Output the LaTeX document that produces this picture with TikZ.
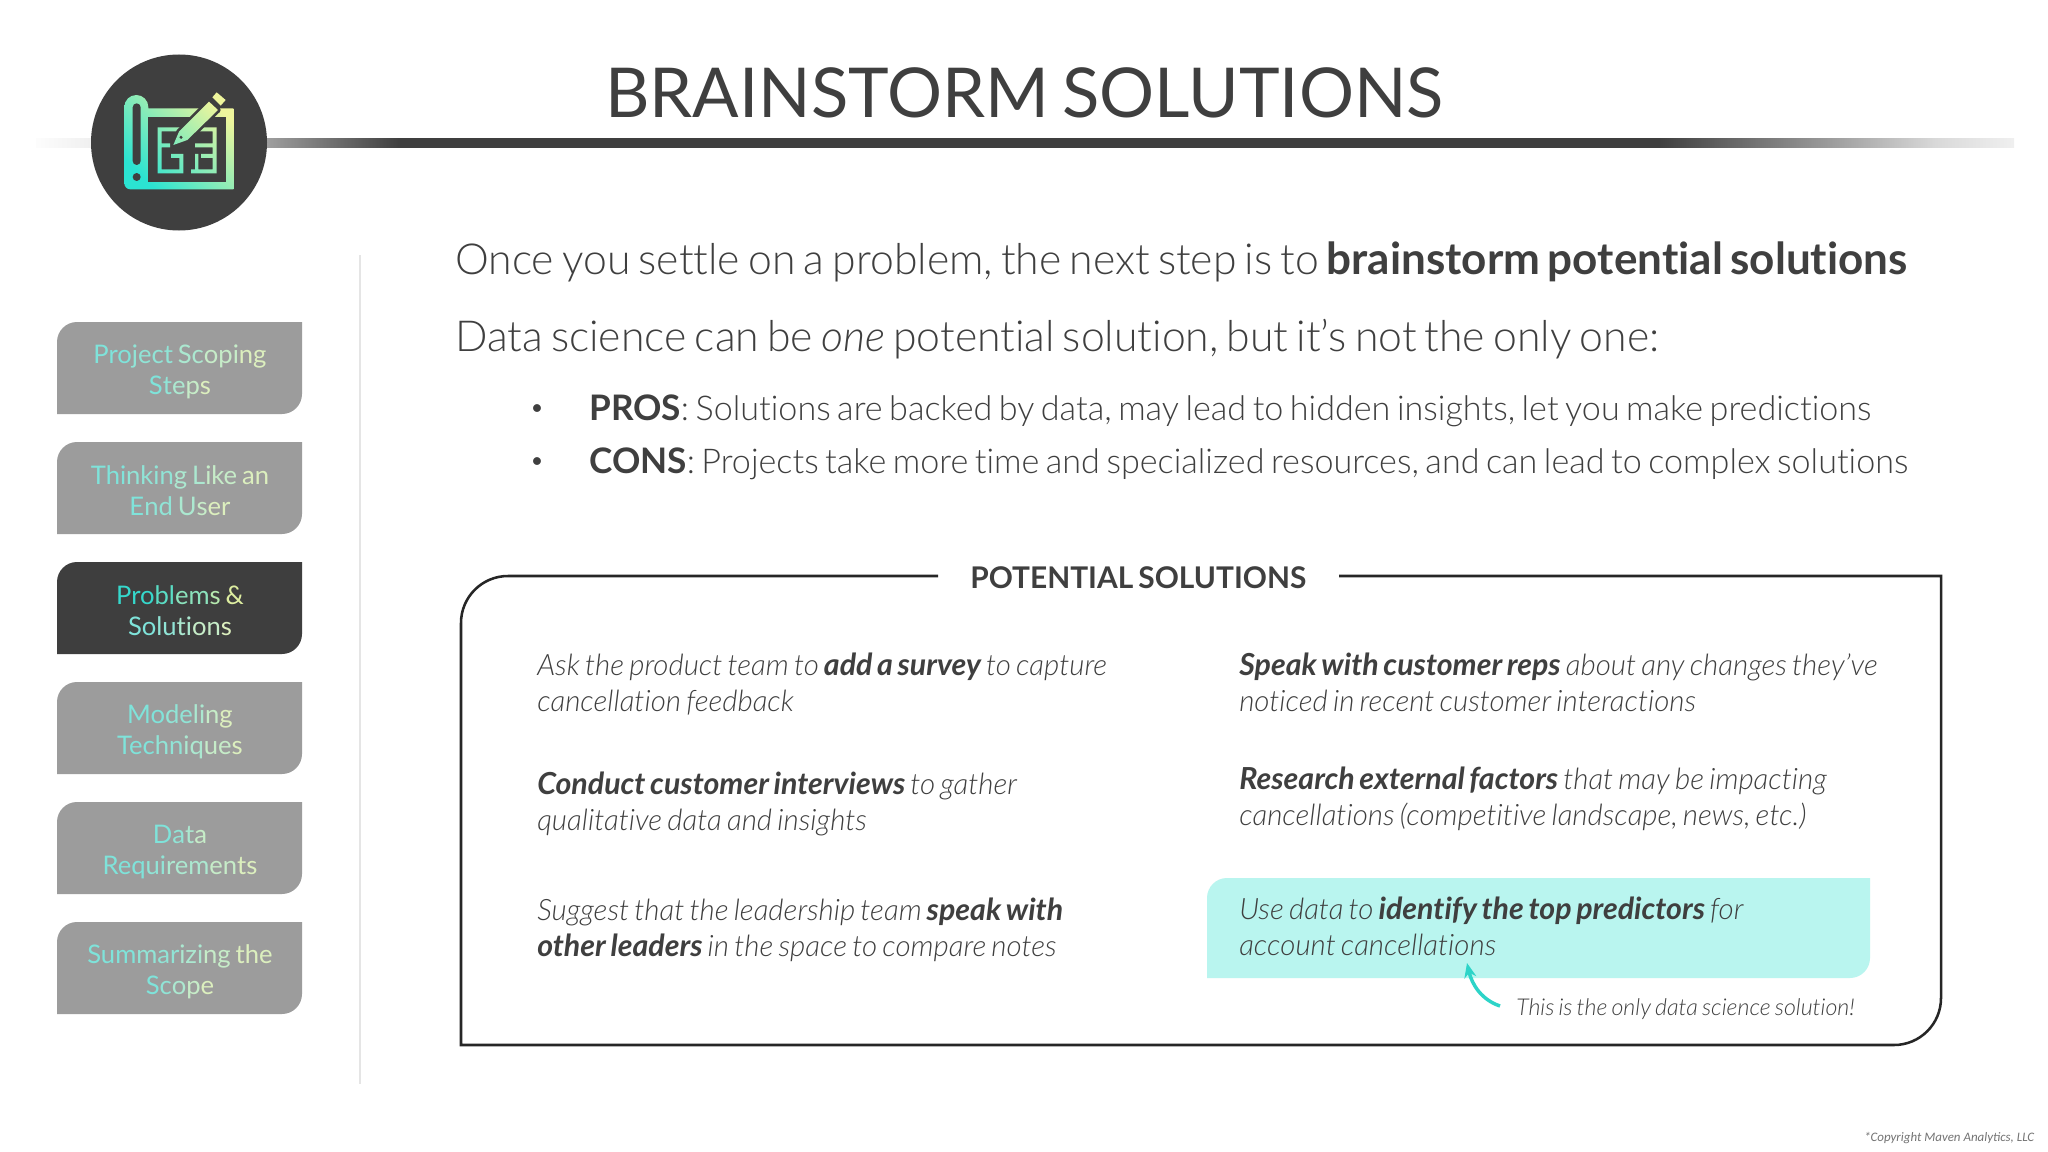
\documentclass[tikz,border=0pt]{standalone}
\usepackage{fontspec}
\setmainfont{Lato}[UprightFont=* Light,ItalicFont=* Light Italic,BoldFont=* Bold,BoldItalicFont=* Bold Italic,WordSpace=0.7,Ligatures=NoCommon,BoldFeatures={Scale=1.03},BoldItalicFeatures={Scale=1.03}]
\newfontfamily\regfont{Lato}[Ligatures=NoCommon]
\newfontfamily\titlefont{Lato}[WordSpace=0.75,Ligatures=NoCommon]
\newfontfamily\copyfont{Carlito}
\usetikzlibrary{arrows.meta}
\definecolor{ink}{HTML}{3F3F3F}
\definecolor{btn}{HTML}{9C9C9C}
\definecolor{btnon}{HTML}{3E3E3E}
\definecolor{hl}{HTML}{B9F5EF}
\definecolor{arrowteal}{HTML}{2DD4C8}
\definecolor{ga}{HTML}{7FE3DA}
\definecolor{gb}{HTML}{90E4D6}
\definecolor{gc}{HTML}{ABE8D0}
\definecolor{gd}{HTML}{C6ECC8}
\definecolor{ge}{HTML}{DCEFBE}
\definecolor{iconlow}{HTML}{2BE3D2}
\definecolor{iconhigh}{HTML}{EEF59C}
\pgfdeclarehorizontalshading{rulefade}{100bp}{color(0bp)=(white); color(25bp)=(black!1); color(26.4bp)=(black!6); color(30.85bp)=(black!38); color(34.2bp)=(ink); color(66bp)=(ink); color(70bp)=(black!42); color(73bp)=(black!15); color(75bp)=(black!6); color(100bp)=(white)}
\newcommand\grad[5]{\textcolor{ga}{#1}\textcolor{gb}{#2}\textcolor{gc}{#3}\textcolor{gd}{#4}\textcolor{ge}{#5}}
\newcommand\gradon{\definecolor{ga}{HTML}{35D8CC}\definecolor{gb}{HTML}{5ADCC4}\definecolor{gc}{HTML}{8BE2BC}\definecolor{gd}{HTML}{B5E8AE}\definecolor{ge}{HTML}{DDEDA0}}
\tikzset{
  x=0.75pt,y=-0.75pt,
  btntext/.style={font=\regfont\fontsize{19.2}{23.25}\selectfont,align=center,anchor=center,inner sep=0pt},
  title/.style={font=\titlefont\fontsize{51.6}{56}\selectfont,text=ink,anchor=base west,inner sep=0pt},
  lead/.style={font=\fontsize{32.05}{36}\selectfont,text=ink,anchor=base west,inner sep=0pt},
  pro/.style={font=\fontsize{25.6}{30}\selectfont,text=ink,anchor=base west,inner sep=0pt},
  bulletmark/.style={font=\fontsize{20}{24}\selectfont,text=ink,anchor=base west,inner sep=0pt},
  cell/.style={font=\fontsize{22.1}{27}\selectfont\itshape,text=ink,anchor=base west,inner sep=0pt,align=left},
  framed/.style={draw=black!85,line width=1.9pt},
  iconfill/.style={shading=axis,bottom color=iconlow,top color=iconhigh,shading angle=-45},
}
\newcommand\tabshape[6]{% fill, left, top, right, bottom, radius
  \fill[#1] (#2,#3+#6) arc[start angle=180,end angle=90,radius=#6*0.75pt] -- (#4,#3) -- (#4,#5-#6) arc[start angle=0,end angle=-90,radius=#6*0.75pt] -- (#2,#5) -- cycle;}
\newcommand\iconshade{\shade[iconfill] (28,22) rectangle (355,313);}
\begin{document}
\begin{tikzpicture}
\useasboundingbox (0,0) rectangle (2048,1152);
\fill[white] (0,0) rectangle (2048,1152);
% header rule
\shade[shading=rulefade] (36,139) rectangle (2014,147.5);
% divider
\draw[black!10,line width=1.4pt] (360,255) -- (360,1084);
% emblem
\fill[ink] (179,142.5) circle[radius=88*0.75pt];
\begin{scope}[shift={(115,85)},x=0.25pt,y=-0.25pt]
  \begin{scope}
    \clip (28,295) -- (28,66) arc[start angle=180,end angle=0,radius=36*0.25pt] -- (100,70) -- (355,70) -- (355,313) -- (46,313) arc[start angle=270,end angle=180,radius=18*0.25pt] -- cycle;
    \iconshade
  \end{scope}
  \fill[ink] (100,95) rectangle (332,290);
  \fill[ink,rounded corners=3pt] (53,240) -- (53,55) -- (77,55) -- (77,240) -- cycle;
  \fill[ink] (65,276) circle[radius=12*0.25pt];
  \begin{scope}
    \clip (128,127) rectangle (205,139)
          (128,127) rectangle (140,187)
          (128,175) rectangle (165,187)
          (128,187) rectangle (140,265)
          (128,253) rectangle (205,265)
          (193,207) rectangle (205,265)
          (168,207) rectangle (205,219)
          (235,127) rectangle (305,139)
          (293,127) rectangle (305,265)
          (240,175) rectangle (305,187)
          (258,207) rectangle (305,219)
          (240,207) rectangle (250,265)
          (228,253) rectangle (305,265);
    \iconshade
  \end{scope}
  \draw[ink,line width=4pt,fill=ink,line join=round] (175,180) -- (192,140) -- (282,50) -- (309,75) -- (217,165) -- cycle;
  \begin{scope}
    \clip (175,180) -- (192,140) -- (282,50) -- (309,75) -- (217,165) -- cycle
          (292,37) -- (305,22) -- (332,45) -- (317,62) -- cycle;
    \iconshade
  \end{scope}
  \fill[ink] (198,157) circle[radius=5*0.25pt];
\end{scope}
% title and lead text
\node[title] (title) at (605,117.5) {BRAINSTORM SOLUTIONS};
\node[lead] (lead1) at (455,274) {Once you settle on a problem, the next step is to \textbf{brainstorm potential solutions}};
\node[lead] (lead2) at (455,351) {Data science can be \textit{one} potential solution, but it’s not the only one:};
\node[bulletmark] (dot1) at (529,416) {•};
\node[bulletmark] (dot2) at (529,469) {•};
\node[pro] (pros) at (589,420.5) {\textbf{PROS}: Solutions are backed by data, may lead to hidden insights, let you make predictions};
\node[pro] (cons) at (589,473) {\textbf{CONS}: Projects take more time and specialized resources, and can lead to complex solutions};
% nav tabs
\tabshape{btn}{57}{322}{302}{414}{20}
\tabshape{btn}{57}{442}{302}{534}{20}
\tabshape{btnon}{57}{562}{302}{654}{20}
\tabshape{btn}{57}{682}{302}{774}{20}
\tabshape{btn}{57}{802}{302}{894}{20}
\tabshape{btn}{57}{922}{302}{1014}{20}
\node[btntext] (tab1) at (180,372) {\grad{Pro}{ject}{\ Sc}{opi}{ng}\\\grad{S}{t}{e}{p}{s}};
\node[btntext] (tab2) at (180,491) {\grad{Thi}{nkin}{g L}{ike}{\ an}\\\grad{E}{nd}{\ U}{s}{er}};
\node[btntext] (tab3) at (180,611) {\gradon\grad{Pro}{bl}{em}{s}{\ \&}\\\grad{So}{lu}{ti}{on}{s}};
\node[btntext] (tab4) at (180,732) {\grad{Mo}{de}{li}{n}{g}\\\grad{Tec}{hn}{iq}{ue}{s}};
\node[btntext] (tab5) at (180,852) {\grad{D}{a}{t}{a}{}\\\grad{Req}{ui}{rem}{en}{ts}};
\node[btntext] (tab6) at (180,972) {\grad{Sum}{mar}{izi}{ng}{\ the}\\\grad{S}{c}{o}{p}{e}};
% solutions frame
\coordinate (gapL) at (938,576);
\coordinate (gapR) at (1339,576);
\draw[framed] (gapL) -- (508,576) arc[start angle=90,end angle=180,radius=47*0.75pt] -- (461,1045) -- (1894,1045) arc[start angle=270,end angle=360,radius=47*0.75pt] -- (1941,576) -- (gapR);
\node[font=\fontsize{21.75}{27}\selectfont\bfseries,text=ink,anchor=base west,inner sep=0pt] (head) at (970,588) {POTENTIAL SOLUTIONS};
% highlight
\tabshape{hl}{1207}{878}{1870}{978}{20}
% cells (anchored on the baseline of their last line)
\node[cell] (c1) at (537,711.8) {Ask the product team to \textbf{add a survey} to capture\\cancellation feedback};
\node[cell] (c2) at (537,830.6) {\textbf{Conduct customer interviews} to gather\\qualitative data and insights};
\node[cell] (c3) at (537,956.5) {Suggest that the leadership team \textbf{speak with}\\\textbf{other leaders} in the space to compare notes};
\node[cell] (c4) at (1239,711.8) {\textbf{Speak with customer reps} about any changes they’ve\\noticed in recent customer interactions};
\node[cell] (c5) at (1239,825) {\textbf{Research external factors} that may be impacting\\cancellations (competitive landscape, news, etc.)};
\node[cell] (c6) at (1239,955) {Use data to \textbf{identify the top predictors} for\\account cancellations};
\node[font=\fontsize{17.4}{21}\selectfont\itshape,text=ink,anchor=base west,inner sep=0pt] (note) at (1516,1015) {This is the only data science solution!};
\coordinate (arrowfrom) at (1500,1006);
\coordinate (arrowto) at (1467,963);
\draw[arrowteal,line width=2.6pt,-{Stealth[length=11pt,width=9pt]}] (arrowfrom) .. controls (1482,1000) and (1472,985) .. (arrowto);
\node[font=\copyfont\fontsize{9.7}{11}\selectfont\itshape,text=black!55,anchor=base west,inner sep=0pt] (copy) at (1864,1141) {*Copyright Maven Analytics, LLC};
\end{tikzpicture}
\end{document}
